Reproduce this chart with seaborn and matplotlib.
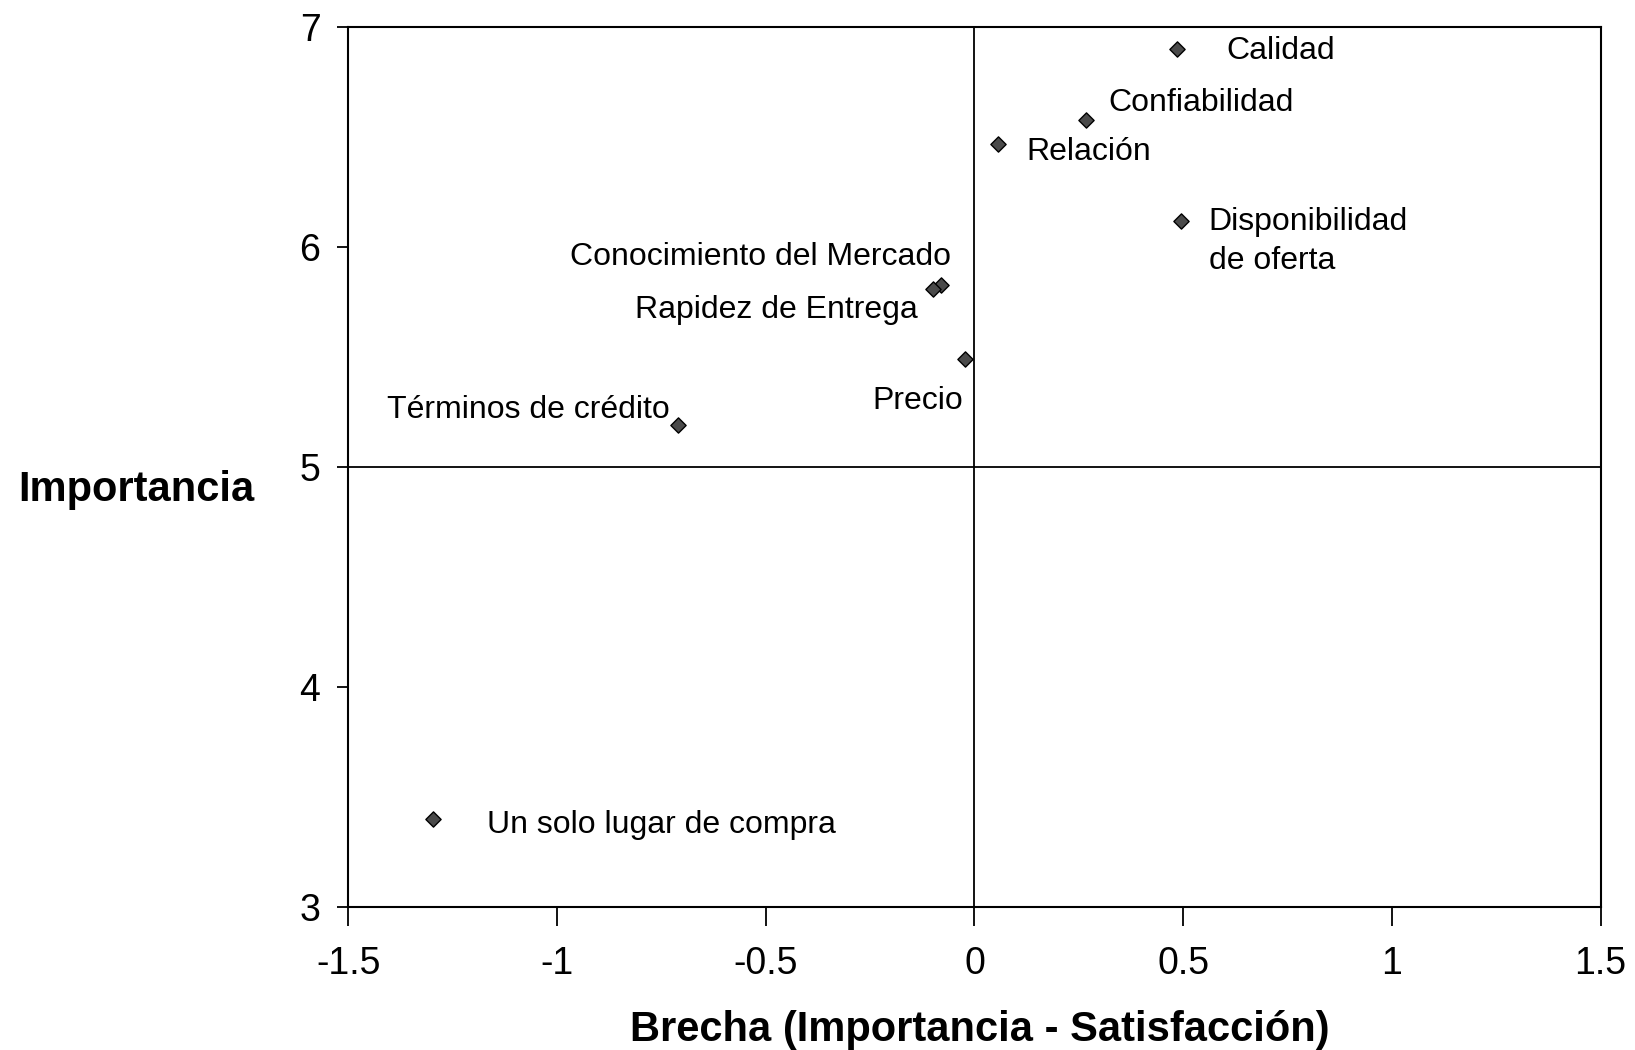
import pandas as pd
import numpy as np
import matplotlib
matplotlib.use('Agg')
import matplotlib.pyplot as plt
import seaborn as sns

# Datos
atributos = ['Calidad', 'Confiabilidad', 'Relación', 'Disponibilidad\nde oferta',
             'Conocimiento del Mercado', 'Rapidez de Entrega', 'Precio',
             'Términos de crédito', 'Un solo lugar de compra']
brecha = [0.484, 0.267, 0.057, 0.494, -0.08, -0.10, -0.022, -0.711, -1.298]
importancia = [6.90, 6.58, 6.47, 6.12, 5.83, 5.81, 5.49, 5.19, 3.40]

x_ticks = [-1.5, -1, -0.5, 0, 0.5, 1, 1.5]
x_tick_labels = ['-1.5', '-1', '-0.5', '0', '0.5', '1', '1.5']
y_ticks = [3, 4, 5, 6, 7]

df = pd.DataFrame({'Atributo': atributos, 'Brecha': brecha, 'Importancia': importancia})

sns.set_style('white')
plt.rcParams['font.family'] = ['Liberation Sans', 'DejaVu Sans']
plt.rcParams['text.color'] = 'black'
plt.rcParams['axes.labelcolor'] = 'black'

fig = plt.figure(figsize=(16.35, 10.5), dpi=100)
ax = fig.add_axes([0.213, 0.136, 0.766, 0.838])

# Líneas de cuadrantes
ax.axvline(0, color='black', lw=1.3, zorder=1)
ax.axhline(5, color='black', lw=1.3, zorder=1)

sns.scatterplot(data=df, x='Brecha', y='Importancia', marker='D', s=60,
                color='#4a4a4a', edgecolor='black', linewidth=1.0, ax=ax, zorder=3)

# Posición de cada etiqueta respecto a su punto (pixeles)
offsets = {
    'Calidad': (50, -2, 'left', 'center'),
    'Confiabilidad': (22, 17, 'left', 'center'),
    'Relación': (28, -8, 'left', 'center'),
    'Disponibilidad\nde oferta': (28, 14, 'left', 'top'),
    'Conocimiento del Mercado': (10, 28, 'right', 'center'),
    'Rapidez de Entrega': (-15, -21, 'right', 'center'),
    'Precio': (-2, -42, 'right', 'center'),
    'Términos de crédito': (-8, 15, 'right', 'center'),
    'Un solo lugar de compra': (54, -6, 'left', 'center'),
}
for _, row in df.iterrows():
    dx, dy, ha, va = offsets[row['Atributo']]
    ax.annotate(row['Atributo'], (row['Brecha'], row['Importancia']),
                xytext=(dx, dy), textcoords='offset pixels',
                ha=ha, va=va, fontsize=23, linespacing=1.4, color='black')

ax.set_xlim(-1.5, 1.5)
ax.set_ylim(3, 7)
ax.set_xticks(x_ticks)
ax.set_xticklabels(x_tick_labels)
ax.set_yticks(y_ticks)
ax.tick_params(axis='x', direction='out', length=14, width=1.3, pad=14, labelsize=27,
               bottom=True, colors='black')
ax.tick_params(axis='y', direction='out', length=8, width=1.3, pad=12, labelsize=27,
               left=True, colors='black')

for sp in ax.spines.values():
    sp.set_color('black')
    sp.set_linewidth(1.5)

ax.set_xlabel('Brecha (Importancia - Satisfacción)', fontsize=30, fontweight='bold',
              va='center', color='black')
ax.set_ylabel('Importancia', fontsize=30, fontweight='bold', rotation=0, ha='center',
              va='center', color='black')
ax.xaxis.set_label_coords(0.504, -0.139)
ax.yaxis.set_label_coords(-0.169, 0.474)

fig.savefig('out.png', dpi=100, facecolor='white')
